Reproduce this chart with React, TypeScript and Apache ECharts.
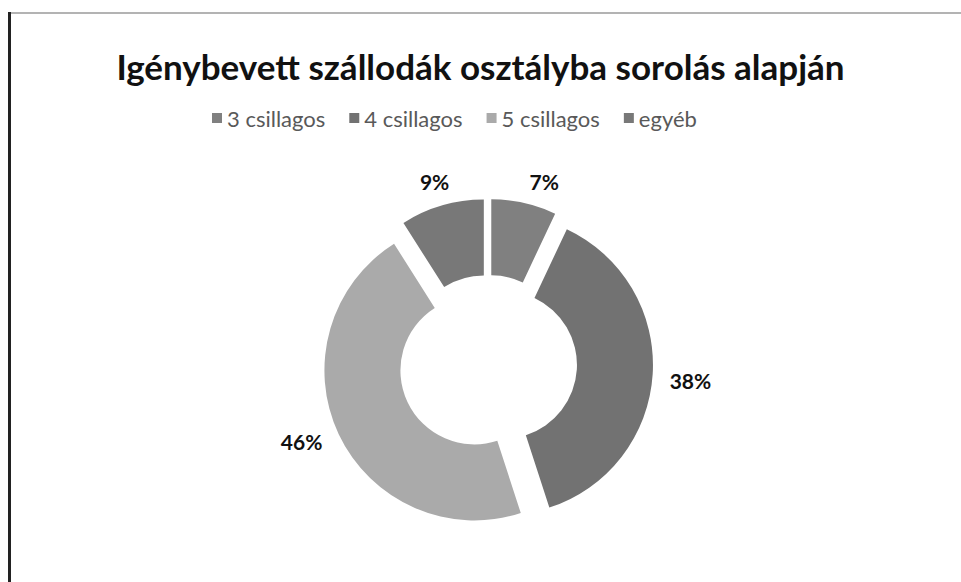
import React, { useEffect, useRef } from "react";
import * as echarts from "echarts";

const titleText = "Igénybevett szállodák osztályba sorolás alapján";
const categories = ["3 csillagos", "4 csillagos", "5 csillagos", "egyéb"];
const shares = [7, 38, 46, 9];
const colors = ["#808080", "#727272", "#aaaaaa", "#787878"];

export default function App() {
  const ref = useRef<HTMLDivElement>(null);

  useEffect(() => {
    if (!ref.current) return;
    const chart = echarts.init(ref.current, null, { renderer: "svg" });

    // per-slice label placement (style only)
    const labelPlace = [
      { length: 21, length2: 0, distance: 1, dy: -1 },
      { length: 8, length2: 4, distance: 5, dy: 6 },
      { length: 18, length2: 0, distance: 0, dy: 0 },
      { length: 24, length2: -14, distance: 0, dy: -1 },
    ];

    chart.setOption({
      animation: false,
      backgroundColor: "#ffffff",
      title: {
        text: titleText,
        left: "center",
        top: 43,
        textStyle: {
          fontFamily: "Lato",
          fontWeight: "bold",
          fontSize: 35,
          color: "#111111",
        },
      },
      legend: {
        data: categories,
        left: 207,
        top: 102,
        icon: "rect",
        itemWidth: 10,
        itemHeight: 10,
        itemGap: 24,
        selectedMode: false,
        textStyle: {
          fontFamily: "Lato",
          fontSize: 22,
          color: "#595959",
        },
      },
      graphic: [
        {
          type: "line",
          shape: { x1: 9.5, y1: 12, x2: 9.5, y2: 582 },
          style: { stroke: "#222222", lineWidth: 3 },
        },
        {
          type: "line",
          shape: { x1: 11, y1: 13, x2: 961, y2: 13 },
          style: { stroke: "#b3b3b3", lineWidth: 2 },
        },
      ],
      series: [
        {
          type: "pie",
          center: [488, 364],
          radius: [74, 150],
          startAngle: 90,
          clockwise: true,
          selectedMode: "multiple",
          selectedOffset: 15,
          avoidLabelOverlap: false,
          emphasis: { disabled: true },
          label: {
            show: true,
            position: "outside",
            formatter: (p: any) => p.value + "%",
            fontFamily: "Lato",
            fontWeight: "bold",
            fontSize: 21,
            color: "#111111",
          },
          labelLine: { show: false },
          labelLayout: (p: any) => ({ dy: labelPlace[p.dataIndex].dy }),
          data: categories.map((name, i) => ({
            name,
            value: shares[i],
            selected: true,
            itemStyle: { color: colors[i] },
            select: { itemStyle: { color: colors[i] }, label: { color: "#111111" } },
            labelLine: {
              show: false,
              length: labelPlace[i].length,
              length2: labelPlace[i].length2,
            },
            label: { distanceToLabelLine: labelPlace[i].distance },
          })),
        },
      ],
    });

    return () => {
      chart.dispose();
    };
  }, []);

  return (
    <div
      ref={ref}
      style={{ position: "fixed", left: 0, top: 0, width: 961, height: 582 }}
    />
  );
}
